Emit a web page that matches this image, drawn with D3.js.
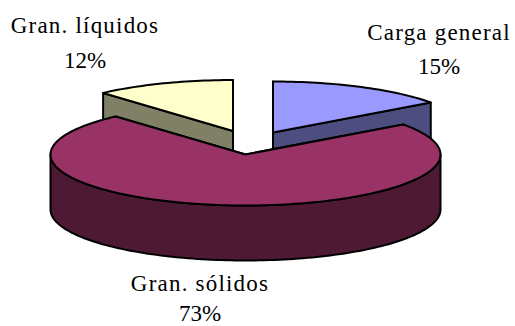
<!DOCTYPE html>
<html><head><meta charset="utf-8">
<script src="https://cdn.jsdelivr.net/npm/d3@7"></script>
<style>html,body{margin:0;padding:0;background:#fff}svg{display:block}text{font-family:"Liberation Serif",serif;font-size:23px;fill:#000}</style>
</head><body><div id="c"></div>
<script>
const categories = ["Carga general", "Gran. sólidos", "Gran. líquidos"];
const values = [15, 73.4, 11.6];
const topColors = ["#9999FF", "#993366", "#FFFFCC"];
const sideColors = ["#4D4D80", "#4D1933", "#808066"];
const centers = [[273,132.5],[245.5,154.5],[233,131]];
const labelPos = [[439,40,74],[200,291,321],[85,33,68]];
const rx = 195, ry = 51, depth = 55;

const svg = d3.select("#c").append("svg").attr("width",515).attr("height",326);
const arcs = d3.pie().sort(null).value(d=>d)(values);
const line = d3.line();
const pt = (c,a,dy=0)=>[c[0]+rx*Math.sin(a), c[1]-ry*Math.cos(a)+dy];
const rim = (c,a0,a1,dy=0)=>{
  const n = Math.max(2,Math.ceil((a1-a0)*40));
  return d3.range(n+1).map(i=>pt(c,a0+(a1-a0)*i/n,dy));
};
const style = (p,fill)=>p.attr("fill",fill).attr("stroke","#000").attr("stroke-width",2).attr("stroke-linejoin","round");

function drawSlice(i){
  const c = centers[i], s = arcs[i].startAngle, e = arcs[i].endAngle;
  [s,e].forEach(a=>{
    const P = pt(c,a);
    style(svg.append("path").attr("d",line([c,P,[P[0],P[1]+depth],[c[0],c[1]+depth]])+"Z"),sideColors[i]);
  });
  const a0 = Math.max(s,Math.PI/2), a1 = Math.min(e,Math.PI*1.5);
  if(a1>a0){
    const t = rim(c,a0,a1), b = rim(c,a0,a1,depth).reverse();
    style(svg.append("path").attr("d",line(t.concat(b))+"Z"),sideColors[i]);
  }
  style(svg.append("path").attr("d",line([c].concat(rim(c,s,e)))+"Z"),topColors[i]);
}
[0,2,1].forEach(drawSlice);

categories.forEach((name,i)=>{
  const [x,y1,y2] = labelPos[i];
  svg.append("text").attr("text-anchor","middle").attr("x",x).attr("y",y1).attr("letter-spacing",1.2).text(name);
  svg.append("text").attr("text-anchor","middle").attr("x",x).attr("y",y2).text(d3.format(".0f")(values[i])+"%");
});
</script></body></html>
